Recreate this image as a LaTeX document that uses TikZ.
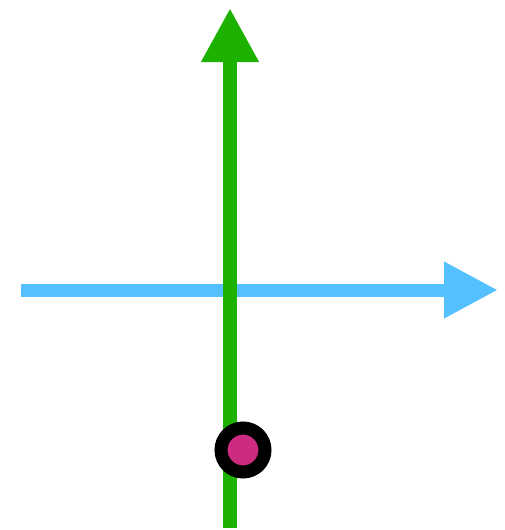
\documentclass[tikz,border=0pt]{standalone}
\usepackage{tikz}
\usetikzlibrary{arrows.meta}
\definecolor{hijauvek}{RGB}{30,178,0}
\definecolor{biruvek}{RGB}{85,192,255}
\definecolor{magentatitik}{RGB}{204,43,128}

\begin{document}
\begin{tikzpicture}[
        x=1pt, y=-1pt,
        vekhor/.style={-{Triangle[length=54pt,width=53pt]}, line width=13pt, biruvek},
        vekver/.style={-{Triangle[length=54pt,width=54pt]}, line width=14pt, hijauvek},
        titik/.style={circle, draw=black, line width=13pt, fill=magentatitik,
                      minimum size=44pt, inner sep=0pt}
    ]
        \useasboundingbox (0,0) rectangle (504,530);
        \coordinate (hkiri)  at (21,290);
        \coordinate (hkanan) at (498,290);
        \coordinate (vbawah) at (230,528);
        \coordinate (vatas)  at (230,8);
        \draw[vekhor] (hkiri) -- (hkanan);
        \draw[vekver] (vbawah) -- (vatas);
        \node[titik] (pos) at (243,450) {};
    \end{tikzpicture}
\end{document}
